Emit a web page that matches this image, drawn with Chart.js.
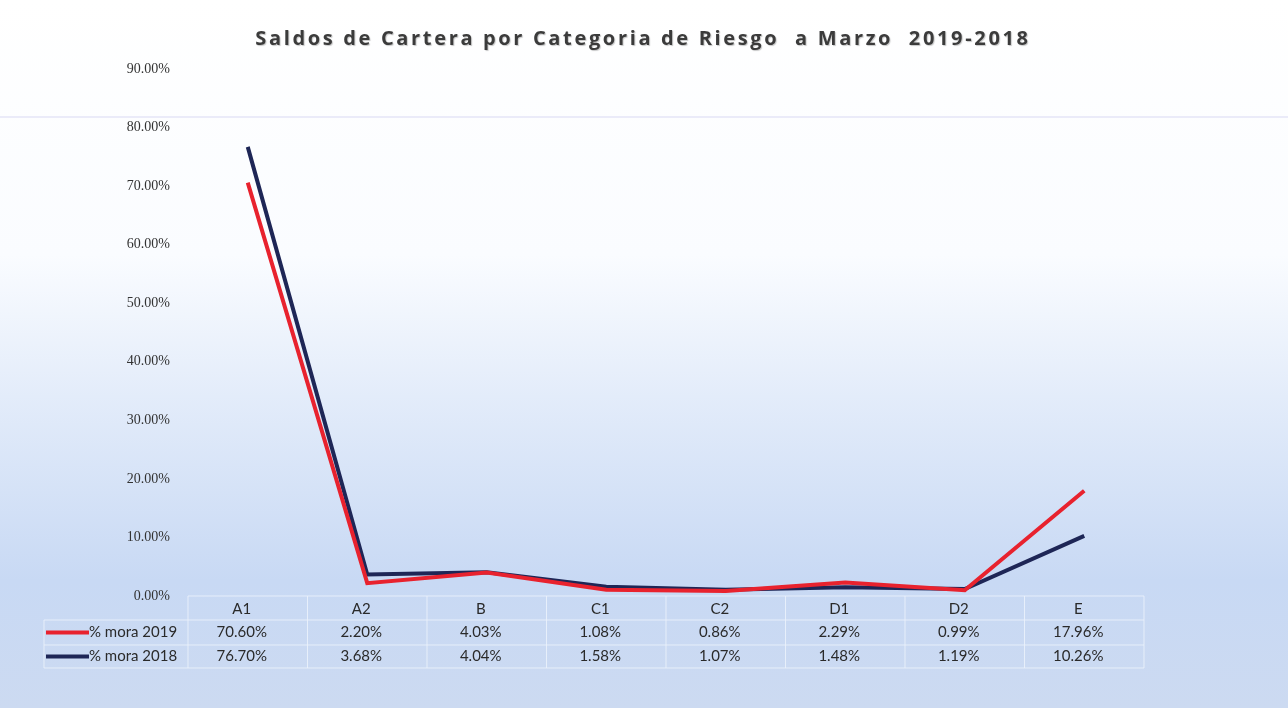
<!DOCTYPE html>
<html lang="es">
<head>
  <meta charset="UTF-8">
  <title>Saldos de Cartera por Categoria de Riesgo</title>
  <script src="https://cdn.jsdelivr.net/npm/chart.js"></script>
  <style>
    html, body {
      margin: 0;
      padding: 0;
      background: #fff;
    }
    #wrap {
      width: 1288px;
      height: 708px;
    }
  </style>
</head>
<body>
<div id="wrap">
  <canvas id="grafico" width="1288" height="708"></canvas>
</div>

<script>
  // datos
  const titulo = "Saldos de Cartera por Categoria de Riesgo  a Marzo  2019-2018";
  const categorias = ["A1", "A2", "B", "C1", "C2", "D1", "D2", "E"];
  const series = ["% mora 2019", "% mora 2018"];
  const mora2019 = [70.60, 2.20, 4.03, 1.08, 0.86, 2.29, 0.99, 17.96];
  const mora2018 = [76.70, 3.68, 4.04, 1.58, 1.07, 1.48, 1.19, 10.26];
  const colores = ["#e8222e", "#1e2656"];

  // fondo degradado + linea tenue
  const fondo = {
    id: 'fondo',
    beforeDraw(chart) {
      const ctx = chart.ctx;
      const h = chart.height;
      const g = ctx.createLinearGradient(0, 0, 0, h);
      g.addColorStop(0, '#ffffff');
      g.addColorStop(0.36, '#fafcff');
      g.addColorStop(0.56, '#e3ecfa');
      g.addColorStop(0.82, '#c8d9f4');
      g.addColorStop(1, '#ccdaf1');
      ctx.save();
      ctx.fillStyle = g;
      ctx.fillRect(0, 0, chart.width, h);
      ctx.strokeStyle = 'rgba(205,205,240,0.5)';
      ctx.lineWidth = 1.5;
      ctx.beginPath();
      ctx.moveTo(0, 117);
      ctx.lineTo(chart.width, 117);
      ctx.stroke();
      ctx.restore();
    }
  };

  // titulo con espaciado entre letras
  const tituloPlugin = {
    id: 'tituloPlugin',
    afterDraw(chart) {
      const ctx = chart.ctx;
      ctx.save();
      ctx.font = "bold 20px 'Open Sans'";
      ctx.letterSpacing = '0px';
      const w0 = ctx.measureText(titulo).width;
      const esp = Math.max(0, (773 - w0) / (titulo.length - 1));
      ctx.letterSpacing = esp.toFixed(2) + 'px';
      ctx.fillStyle = '#3b3b3b';
      ctx.shadowColor = 'rgba(0,0,0,0.22)';
      ctx.shadowOffsetX = 1;
      ctx.shadowOffsetY = 1;
      ctx.shadowBlur = 1;
      ctx.textAlign = 'left';
      ctx.textBaseline = 'middle';
      const w = ctx.measureText(titulo).width;
      ctx.fillText(titulo, 643 - w / 2, 39);
      ctx.restore();
    }
  };

  // tabla de datos bajo el eje
  const tabla = {
    id: 'tabla',
    afterDraw(chart) {
      const ctx = chart.ctx;
      const xs = chart.scales.x;
      const area = chart.chartArea;
      const paso = (area.right - area.left) / categorias.length;
      const top = area.bottom;
      const filaH = [24, 25, 23];
      const y1 = top + filaH[0];
      const y2 = y1 + filaH[1];
      const y3 = y2 + filaH[2];
      const izq = 44;

      ctx.save();
      ctx.strokeStyle = 'rgba(236,242,252,0.85)';
      ctx.lineWidth = 1;
      ctx.beginPath();
      // horizontales
      ctx.moveTo(area.left, top); ctx.lineTo(area.right, top);
      ctx.moveTo(izq, y1); ctx.lineTo(area.right, y1);
      ctx.moveTo(izq, y2); ctx.lineTo(area.right, y2);
      ctx.moveTo(izq, y3); ctx.lineTo(area.right, y3);
      // verticales
      ctx.moveTo(izq, y1); ctx.lineTo(izq, y3);
      for (let i = 0; i <= categorias.length; i++) {
        const x = area.left + i * paso;
        ctx.moveTo(x, top); ctx.lineTo(x, y3);
      }
      ctx.stroke();

      ctx.fillStyle = '#2a2a2a';
      ctx.font = "15px Lato";
      ctx.textAlign = 'center';
      ctx.textBaseline = 'middle';
      categorias.forEach((c, i) => {
        const x = xs.getPixelForValue(i) - 6;
        ctx.fillText(c, x, (top + y1) / 2 + 1);
        ctx.fillText(mora2019[i].toFixed(2) + '%', x, (y1 + y2) / 2);
        ctx.fillText(mora2018[i].toFixed(2) + '%', x, (y2 + y3) / 2);
      });

      // claves de la leyenda
      const filas = [(y1 + y2) / 2, (y2 + y3) / 2];
      series.forEach((s, k) => {
        ctx.strokeStyle = colores[k];
        ctx.lineWidth = 4;
        ctx.beginPath();
        ctx.moveTo(46, filas[k]);
        ctx.lineTo(89, filas[k]);
        ctx.stroke();
        ctx.fillStyle = '#2a2a2a';
        ctx.textAlign = 'left';
        ctx.fillText(s, 89, filas[k]);
      });
      ctx.restore();
    }
  };

  new Chart(document.getElementById('grafico'), {
    type: 'line',
    data: {
      labels: categorias,
      datasets: [
        {
          label: series[0],
          data: mora2019,
          borderColor: colores[0],
          backgroundColor: colores[0],
          borderWidth: 4,
          pointRadius: 0,
          tension: 0
        },
        {
          label: series[1],
          data: mora2018,
          borderColor: colores[1],
          backgroundColor: colores[1],
          borderWidth: 4,
          pointRadius: 0,
          tension: 0
        }
      ]
    },
    options: {
      responsive: false,
      animation: false,
      layout: {
        padding: { top: 69, right: 144, bottom: 112, left: 0 }
      },
      plugins: {
        legend: { display: false },
        title: { display: false },
        tooltip: { enabled: false }
      },
      scales: {
        x: {
          display: false,
          offset: true
        },
        y: {
          min: 0,
          max: 90,
          grid: { display: false, drawTicks: false },
          border: { display: false },
          afterFit(scale) { scale.width = 188; },
          ticks: {
            stepSize: 10,
            padding: 18,
            color: '#333',
            font: { family: "'Liberation Serif'", size: 14 },
            callback: v => v.toFixed(2) + '%'
          }
        }
      }
    },
    plugins: [fondo, tituloPlugin, tabla]
  });
</script>
</body>
</html>
